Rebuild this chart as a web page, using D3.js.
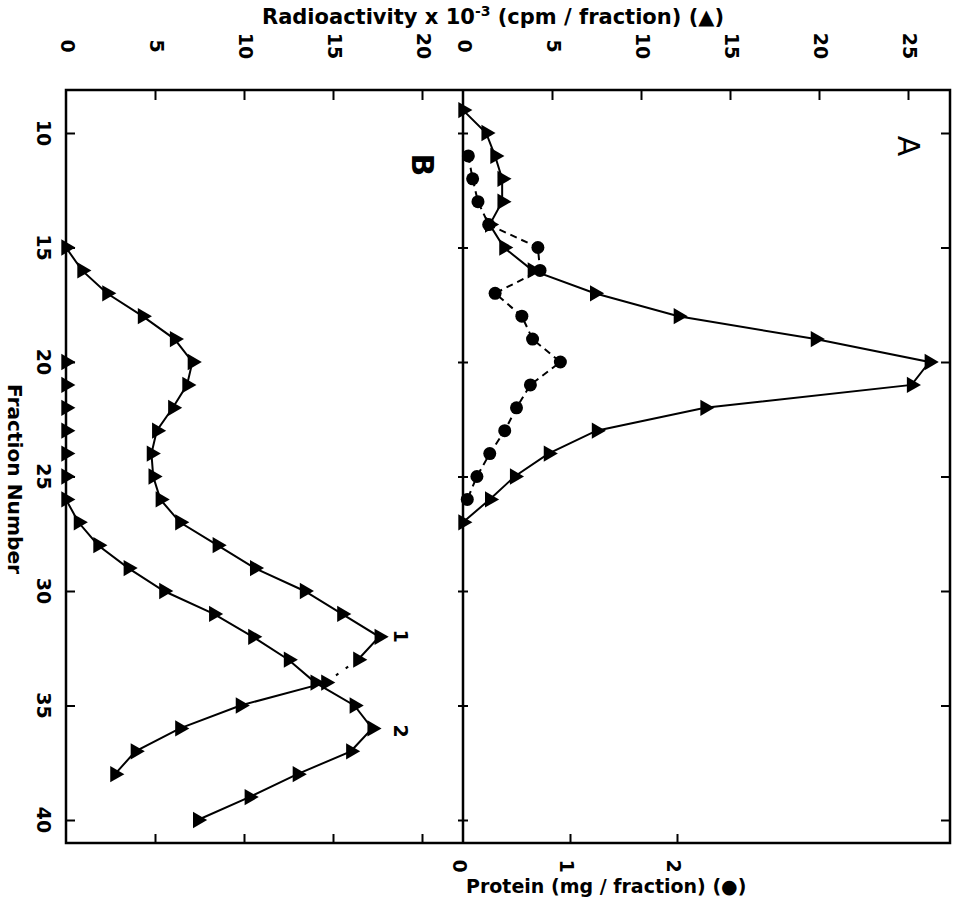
<!DOCTYPE html>
<html>
<head>
<meta charset="utf-8">
<script src="https://cdn.jsdelivr.net/npm/d3@7"></script>
<style>
  body { margin: 0; background: #fff; }
  svg { display: block; }
  text { font-family: "DejaVu Sans", "Liberation Sans", sans-serif; fill: #000; }
</style>
</head>
<body>
<svg id="chart" width="958" height="904"></svg>
<script>
// fraction numbers and readings (radioactivity x 10^-3 cpm, protein mg)
var fracB1 = d3.range(15, 39);
var radB1 = [0, 0.9, 2.3, 4.3, 6.1, 7.1, 6.8, 6.0, 5.1, 4.8, 4.9, 5.3, 6.4, 8.5, 10.6, 13.4, 15.5, 17.6, 16.4, 14.6, 9.8, 6.4, 3.9, 2.75];
var fracB2 = d3.range(20, 41);
var radB2 = [0, 0, 0, 0, 0, 0, 0, 0.7, 1.8, 3.5, 5.5, 8.3, 10.5, 12.5, 14.0, 16.2, 17.2, 16.0, 13.0, 10.3, 7.4];
var fracA = d3.range(9, 28);
var radA = [0, 1.3, 1.8, 2.2, 2.2, 1.5, 2.3, 3.9, 7.4, 12.1, 19.8, 26.2, 25.2, 13.6, 7.5, 4.8, 2.9, 1.5, 0];
var fracProt = d3.range(11, 27);
var protA = [0.05, 0.09, 0.14, 0.24, 0.70, 0.72, 0.30, 0.55, 0.65, 0.91, 0.63, 0.50, 0.39, 0.25, 0.13, 0.04];

var fracTicks = [10, 15, 20, 25, 30, 35, 40];
var radTicksB = [0, 5, 10, 15, 20];
var radTicksA = [0, 5, 10, 15, 20, 25];
var protTicks = [0, 1, 2];

const svg = d3.select('#chart');

const padL = 66, padR = 950, padT = 90, padB = 843, mid = 463;

const y = d3.scaleLinear().domain([10, 40]).range([133, 820]);
const xB = d3.scaleLinear().domain([0, 20]).range([padL, 422]);
const xA = d3.scaleLinear().domain([0, 25]).range([mid, 908]);
const xP = d3.scaleLinear().domain([0, 2]).range([mid, 677]);

// frame and divider
svg.append('rect')
    .attr('x', padL).attr('y', padT)
    .attr('width', padR - padL).attr('height', padB - padT)
    .style('fill', 'none').style('stroke', 'black').style('stroke-width', 2.5);
svg.append('line')
    .attr('x1', mid).attr('x2', mid).attr('y1', padT).attr('y2', padB)
    .style('stroke', 'black').style('stroke-width', 2.5);

function ticks(axis, tx, ty) {
    const g = svg.append('g').attr('transform', 'translate(' + tx + ',' + ty + ')').call(axis);
    g.select('.domain').remove();
    g.selectAll('line').style('stroke-width', 2);
    g.selectAll('text').remove();
    return g;
}

// inward ticks
ticks(d3.axisTop(xB).tickValues(radTicksB.slice(1)).tickSize(-10), 0, padT);
ticks(d3.axisTop(xA).tickValues(radTicksA.slice(1)).tickSize(-10), 0, padT);
ticks(d3.axisBottom(xB).tickValues(radTicksB.slice(1)).tickSize(-9), 0, padB);
ticks(d3.axisBottom(xP).tickValues(protTicks.slice(1)).tickSize(-9), 0, padB);
ticks(d3.axisLeft(y).tickValues(fracTicks).tickSize(-9), padL, 0);
ticks(d3.axisRight(y).tickValues(fracTicks).tickSize(-9), padR, 0);
ticks(d3.axisLeft(y).tickValues(fracTicks).tickSize(5), mid, 0);
ticks(d3.axisRight(y).tickValues(fracTicks).tickSize(5), mid, 0);

// rotated labels (the figure's text reads top to bottom)
function rotLabel(x, yy, txt, size) {
    return svg.append('text')
        .attr('transform', 'translate(' + x + ',' + yy + ') rotate(90)')
        .attr('text-anchor', 'middle')
        .attr('dominant-baseline', 'central')
        .style('font-size', size + 'px')
        .style('font-weight', 600)
        .text(txt);
}
radTicksB.forEach(function (v) { rotLabel(xB(v) + 2, 46, v, 19); });
radTicksA.forEach(function (v) { rotLabel(xA(v) + 2, 46, v, 19); });
fracTicks.forEach(function (f) { rotLabel(44, y(f), f, 19); });
protTicks.forEach(function (v) { rotLabel(xP(v) - 3, 866, v, 19); });

rotLabel(15, 479, 'Fraction Number', 19)
    .attr('textLength', 190).attr('lengthAdjust', 'spacingAndGlyphs');
rotLabel(908, 146, 'A', 30).style('font-weight', 'normal');
rotLabel(422, 165, 'B', 30);
rotLabel(401, 636, '1', 19);
rotLabel(401, 731, '2', 19);

// horizontal titles
const title = svg.append('text')
    .attr('x', 262).attr('y', 24)
    .style('font-size', '21px').style('font-weight', 600);
title.append('tspan').text('Radioactivity  x 10');
title.append('tspan').attr('dy', -8).style('font-size', '14px').text('-3');
title.append('tspan').attr('dy', 8).text(' (cpm / fraction) (\u25B2)');

svg.append('text')
    .attr('x', 466).attr('y', 893)
    .style('font-size', '19px').style('font-weight', 600)
    .text('Protein  (mg / fraction) (\u25CF)');

// curves
function curve(xs, vs, sx, dash) {
    const pts = xs.map(function (f, i) { return [sx(vs[i]), y(f)]; });
    svg.append('path')
        .attr('d', d3.line()(pts))
        .style('fill', 'none').style('stroke', 'black')
        .style('stroke-width', 2)
        .style('stroke-dasharray', dash || null);
    return pts;
}

const tri = d3.symbol().type(d3.symbolTriangle).size(115);
function triangles(pts) {
    svg.append('g').selectAll('path').data(pts).join('path')
        .attr('d', tri)
        .attr('transform', function (d) { return 'translate(' + d[0] + ',' + d[1] + ') rotate(90)'; })
        .style('fill', 'black');
}

const ptsP = curve(fracProt, protA, xP, '7,5');
svg.append('g').selectAll('circle').data(ptsP).join('circle')
    .attr('cx', function (d) { return d[0]; })
    .attr('cy', function (d) { return d[1]; })
    .attr('r', 6.5)
    .style('fill', 'black');

triangles(curve(fracA, radA, xA));

// curve 1 in B is broken between fractions 33 and 34
const k = fracB1.indexOf(33);
const b1a = curve(fracB1.slice(0, k + 1), radB1.slice(0, k + 1), xB);
curve(fracB1.slice(k, k + 2), radB1.slice(k, k + 2), xB, '3,9');
const b1b = curve(fracB1.slice(k + 1), radB1.slice(k + 1), xB);
triangles(b1a.concat(b1b));
triangles(curve(fracB2, radB2, xB));
</script>
</body>
</html>
